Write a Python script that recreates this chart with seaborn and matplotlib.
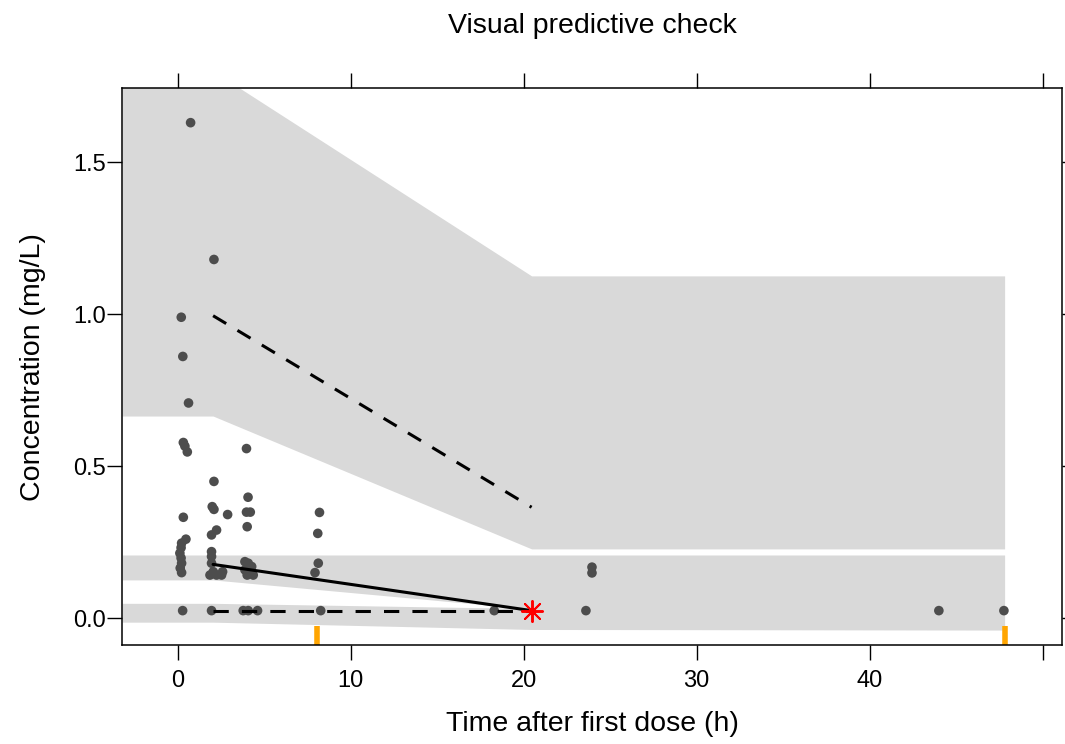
import matplotlib
matplotlib.use("Agg")
import matplotlib.pyplot as plt
import seaborn as sns
import pandas as pd

# ---------------- data ----------------
title = "Visual predictive check"
x_label = "Time after first dose (h)"
y_label = "Concentration (mg/L)"

obs_time = [0.75, 0.21, 0.30, 0.63, 0.33, 0.42, 0.56, 0.33, 0.48, 0.23, 0.20, 0.13,
            0.20, 0.23, 0.15, 0.23, 0.29,
            2.10, 2.10, 2.00, 2.10, 2.25, 1.96, 1.96, 1.96, 1.96, 2.06, 1.87, 2.25,
            2.54, 2.60, 1.96, 2.89,
            3.98, 4.07, 3.98, 4.20, 4.02, 3.89, 4.08, 4.28, 3.89, 4.18, 4.02, 4.37,
            3.79, 4.08, 4.62,
            8.20, 8.10, 8.13, 7.94, 8.27,
            18.30, 23.60, 23.95, 23.95, 44.00, 47.76]
obs_conc = [1.630, 0.990, 0.861, 0.708, 0.578, 0.566, 0.547, 0.332, 0.260, 0.247, 0.232, 0.214,
            0.198, 0.181, 0.165, 0.150, 0.025,
            1.180, 0.450, 0.367, 0.358, 0.290, 0.274, 0.219, 0.203, 0.181, 0.153, 0.142, 0.142,
            0.142, 0.153, 0.025, 0.341,
            0.558, 0.398, 0.349, 0.349, 0.301, 0.186, 0.181, 0.170, 0.159, 0.153, 0.142, 0.142,
            0.025, 0.025, 0.025,
            0.348, 0.279, 0.181, 0.150, 0.025,
            0.025, 0.025, 0.168, 0.149, 0.025, 0.025]

bin_mid = [2.05, 20.46]
obs_p95 = [0.995, 0.365]
obs_p50 = [0.177, 0.025]
obs_p05 = [0.025, 0.025]

ribbon_x = [-3.2, 2.05, 20.46, 47.8]
pi_p95_lo = [0.665, 0.665, 0.228, 0.228]
pi_p95_hi = [1.800, 1.800, 1.126, 1.126]
pi_p50_lo = [0.126, 0.126, 0.030, 0.030]
pi_p50_hi = [0.208, 0.208, 0.208, 0.208]
pi_p05_lo = [-0.013, -0.013, -0.037, -0.039]
pi_p05_hi = [0.049, 0.049, 0.032, 0.032]

bin_edges = [8.07, 47.8]
flag_x = [20.46]
flag_y = [0.025]

x_ticks = [0, 10, 20, 30, 40, 50]
x_tick_labels = ["0", "10", "20", "30", "40", ""]
y_ticks = [0.0, 0.5, 1.0, 1.5]
y_tick_labels = ["0.0", "0.5", "1.0", "1.5"]
x_lim = (-3.2, 51.1)
y_lim = (-0.088, 1.743)

# ---------------- style ----------------
sns.set_style("white")
plt.rcParams["font.family"] = ["Liberation Sans", "DejaVu Sans"]
plt.rcParams["text.color"] = "black"
plt.rcParams["axes.labelcolor"] = "black"
plt.rcParams["xtick.color"] = "black"
plt.rcParams["ytick.color"] = "black"

fig = plt.figure(figsize=(10.65, 7.44), dpi=100)
ax = fig.add_axes([0.1148, 0.1331, 0.9969 - 0.1148, 0.8813 - 0.1331])

band = "#D9D9D9"
for lo, hi in [(pi_p95_lo, pi_p95_hi), (pi_p50_lo, pi_p50_hi), (pi_p05_lo, pi_p05_hi)]:
    ax.fill_between(ribbon_x, lo, hi, color=band, linewidth=0, zorder=1)

obs = pd.DataFrame({"time": obs_time, "conc": obs_conc})
sns.scatterplot(data=obs, x="time", y="conc", color="#4D4D4D", s=48,
                edgecolor="none", ax=ax, zorder=3)

dash = (0, (5, 4.3))
sns.lineplot(x=bin_mid, y=obs_p95, color="black", linewidth=2.2, linestyle=dash, ax=ax, zorder=4)
sns.lineplot(x=bin_mid, y=obs_p50, color="black", linewidth=2.2, ax=ax, zorder=4)
sns.lineplot(x=bin_mid, y=obs_p05, color="black", linewidth=2.2, linestyle=dash, ax=ax, zorder=4)

sns.scatterplot(x=flag_x, y=flag_y, marker=(8, 2, 0), s=230, color="red",
                linewidth=1.4, ax=ax, zorder=5)

sns.rugplot(x=bin_edges, height=0.034, color="orange", linewidth=4, ax=ax, zorder=2)

ax.set_xlim(*x_lim)
ax.set_ylim(*y_lim)
ax.set_xticks(x_ticks)
ax.set_xticklabels(x_tick_labels)
ax.set_yticks(y_ticks)
ax.set_yticklabels(y_tick_labels)
ax.tick_params(axis="both", direction="out", length=11, width=1.0, color="black",
               labelsize=17, bottom=True, left=True, top=True, right=True,
               labeltop=False, labelright=False, labelbottom=True, labelleft=True)
ax.tick_params(axis="x", pad=7)
ax.tick_params(axis="y", pad=1)
for sp in ax.spines.values():
    sp.set_color("black")
    sp.set_linewidth(1.1)
    sp.set_visible(True)

ax.set_xlabel(x_label, fontsize=20.5, labelpad=14)
ax.set_ylabel(y_label, fontsize=20.5, labelpad=19)
ax.set_title(title, fontsize=20.5, pad=40)

fig.savefig("out.png", dpi=100)
